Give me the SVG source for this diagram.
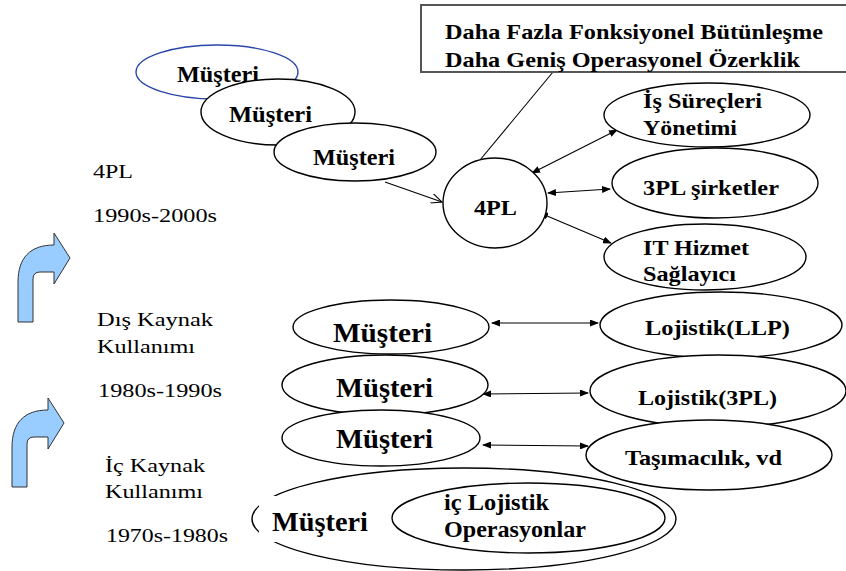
<svg xmlns="http://www.w3.org/2000/svg" width="846" height="571" viewBox="0 0 846 571" font-family="'Liberation Serif', 'DejaVu Serif', serif">
<style>
text{font-family:'Liberation Serif','DejaVu Serif',serif;fill:#000}
.b{font-weight:bold}
.r{font-weight:normal;font-size:18px}
.e{fill:#fff;stroke:#000;stroke-width:1.4}
.c{stroke:#000;stroke-width:1.1;fill:none}
.ba{fill:#99ccff;stroke:#333;stroke-width:1}
</style>
<defs>
<marker id="ah" markerUnits="userSpaceOnUse" markerWidth="9" markerHeight="7" refX="8" refY="3.5" orient="auto-start-reverse"><path d="M0,0 L9,3.5 L0,7 z" fill="#000"/></marker>
<marker id="oa" markerUnits="userSpaceOnUse" markerWidth="12" markerHeight="10" refX="11" refY="5" orient="auto"><path d="M0,0 L11,5 L0,10" fill="none" stroke="#000" stroke-width="1.1"/></marker>
</defs>
<g id="bent-arrows">
<path class="ba" d="M18,322 L33,322 L33,279 Q33,272 40,272 L54,272 L54,284 L70,258 L54,233 L54,245 C30,245 18,258 18,282 Z"/>
<path class="ba" transform="translate(-6,165)" d="M18,322 L33,322 L33,279 Q33,272 40,272 L54,272 L54,284 L70,258 L54,233 L54,245 C30,245 18,258 18,282 Z"/>
</g>
<g id="labels">
<text class="r" x="93" y="178" textLength="40" lengthAdjust="spacingAndGlyphs">4PL</text>
<text class="r" x="93" y="222" textLength="124" lengthAdjust="spacingAndGlyphs">1990s-2000s</text>
<text class="r" x="97" y="326" textLength="116" lengthAdjust="spacingAndGlyphs">Dış Kaynak</text>
<text class="r" x="97" y="353" textLength="98" lengthAdjust="spacingAndGlyphs">Kullanımı</text>
<text class="r" x="98" y="397" textLength="124" lengthAdjust="spacingAndGlyphs">1980s-1990s</text>
<text class="r" x="105" y="472" textLength="100" lengthAdjust="spacingAndGlyphs">İç Kaynak</text>
<text class="r" x="105" y="498" textLength="98" lengthAdjust="spacingAndGlyphs">Kullanımı</text>
<text class="r" x="106" y="542" textLength="122" lengthAdjust="spacingAndGlyphs">1970s-1980s</text>
</g>
<g id="connectors">
<line class="c" x1="553" y1="72" x2="480" y2="160"/>
<line class="c" x1="385" y1="182" x2="442" y2="202" marker-end="url(#oa)"/>
<line class="c" x1="532" y1="173" x2="617" y2="130" marker-start="url(#ah)" marker-end="url(#ah)"/>
<line class="c" x1="548" y1="193" x2="610" y2="189" marker-start="url(#ah)" marker-end="url(#ah)"/>
<line class="c" x1="540" y1="213" x2="611" y2="243" marker-start="url(#ah)" marker-end="url(#ah)"/>
<line class="c" x1="492" y1="323" x2="598" y2="323" marker-start="url(#ah)" marker-end="url(#ah)"/>
<line class="c" x1="483" y1="394" x2="588" y2="393" marker-start="url(#ah)" marker-end="url(#ah)"/>
<line class="c" x1="483" y1="445" x2="588" y2="446" marker-start="url(#ah)" marker-end="url(#ah)"/>
</g>
<g id="box">
<rect x="421" y="5" width="432" height="67" fill="#fff" stroke="#555" stroke-width="2"/>
<text class="b" font-size="22" x="445" y="39" textLength="378" lengthAdjust="spacingAndGlyphs">Daha Fazla Fonksiyonel Bütünleşme</text>
<text class="b" font-size="22" x="445" y="67" textLength="355" lengthAdjust="spacingAndGlyphs">Daha Geniş Operasyonel Özerklik</text>
</g>
<g id="musteri-top1">
<ellipse cx="217" cy="72" rx="81" ry="27" fill="#fff" stroke="#2a46a8" stroke-width="1.4"/>
<text class="b" font-size="24" x="177" y="82" textLength="82" lengthAdjust="spacingAndGlyphs">Müşteri</text>
</g>
<g id="musteri-top2">
<ellipse class="e" cx="278" cy="112" rx="77" ry="33"/>
<text class="b" font-size="24" x="229" y="122" textLength="83" lengthAdjust="spacingAndGlyphs">Müşteri</text>
</g>
<g id="musteri-top3">
<ellipse class="e" cx="355" cy="152" rx="81" ry="29"/>
<text class="b" font-size="24" x="313" y="165" textLength="82" lengthAdjust="spacingAndGlyphs">Müşteri</text>
</g>
<g id="n4pl">
<ellipse class="e" cx="495" cy="203" rx="52" ry="45"/>
<text class="b" font-size="20" x="474" y="215" textLength="43" lengthAdjust="spacingAndGlyphs">4PL</text>
</g>
<g id="is-surecleri">
<ellipse class="e" cx="707" cy="115" rx="103" ry="32"/>
<text class="b" font-size="21" x="643" y="108" textLength="119" lengthAdjust="spacingAndGlyphs">İş Süreçleri</text>
<text class="b" font-size="21" x="643" y="135" textLength="94" lengthAdjust="spacingAndGlyphs">Yönetimi</text>
</g>
<g id="sirketler-3pl">
<ellipse class="e" cx="715" cy="183" rx="103" ry="35"/>
<text class="b" font-size="21" x="643" y="195" textLength="136" lengthAdjust="spacingAndGlyphs">3PL şirketler</text>
</g>
<g id="it-hizmet">
<ellipse class="e" cx="705" cy="257" rx="101" ry="33"/>
<text class="b" font-size="21" x="643" y="255" textLength="106" lengthAdjust="spacingAndGlyphs">IT Hizmet</text>
<text class="b" font-size="21" x="643" y="281" textLength="93" lengthAdjust="spacingAndGlyphs">Sağlayıcı</text>
</g>
<g id="musteri-row1">
<ellipse class="e" cx="391" cy="327" rx="98" ry="27"/>
<text class="b" font-size="28" x="333" y="342" textLength="99" lengthAdjust="spacingAndGlyphs">Müşteri</text>
</g>
<g id="lojistik-llp">
<ellipse class="e" cx="721" cy="325" rx="121" ry="33"/>
<text class="b" font-size="22" x="645" y="335" textLength="145" lengthAdjust="spacingAndGlyphs">Lojistik(LLP)</text>
</g>
<g id="musteri-row2">
<ellipse class="e" cx="385" cy="385" rx="103" ry="30"/>
<text class="b" font-size="28" x="336" y="397" textLength="97" lengthAdjust="spacingAndGlyphs">Müşteri</text>
</g>
<g id="lojistik-3pl">
<ellipse class="e" cx="718" cy="391" rx="128" ry="36"/>
<text class="b" font-size="22" x="638" y="405" textLength="139" lengthAdjust="spacingAndGlyphs">Lojistik(3PL)</text>
</g>
<g id="musteri-row3">
<ellipse class="e" cx="381" cy="438" rx="99" ry="28"/>
<text class="b" font-size="28" x="336" y="448" textLength="97" lengthAdjust="spacingAndGlyphs">Müşteri</text>
</g>
<g id="tasimacilik">
<ellipse class="e" cx="709" cy="455" rx="123" ry="35"/>
<text class="b" font-size="22" x="625" y="465" textLength="157" lengthAdjust="spacingAndGlyphs">Taşımacılık, vd</text>
</g>
<g id="musteri-inner">
<ellipse class="e" cx="464" cy="519" rx="212" ry="51"/>
<rect x="259" y="496" width="112" height="46" fill="#fff"/>
<text class="b" font-size="28" x="272" y="531" textLength="96" lengthAdjust="spacingAndGlyphs">Müşteri</text>
</g>
<g id="ic-lojistik">
<ellipse class="e" cx="528.5" cy="518" rx="136.5" ry="35"/>
<text class="b" font-size="23" x="444" y="510" textLength="105" lengthAdjust="spacingAndGlyphs">iç Lojistik</text>
<text class="b" font-size="23" x="444" y="537" textLength="142" lengthAdjust="spacingAndGlyphs">Operasyonlar</text>
</g>
</svg>
